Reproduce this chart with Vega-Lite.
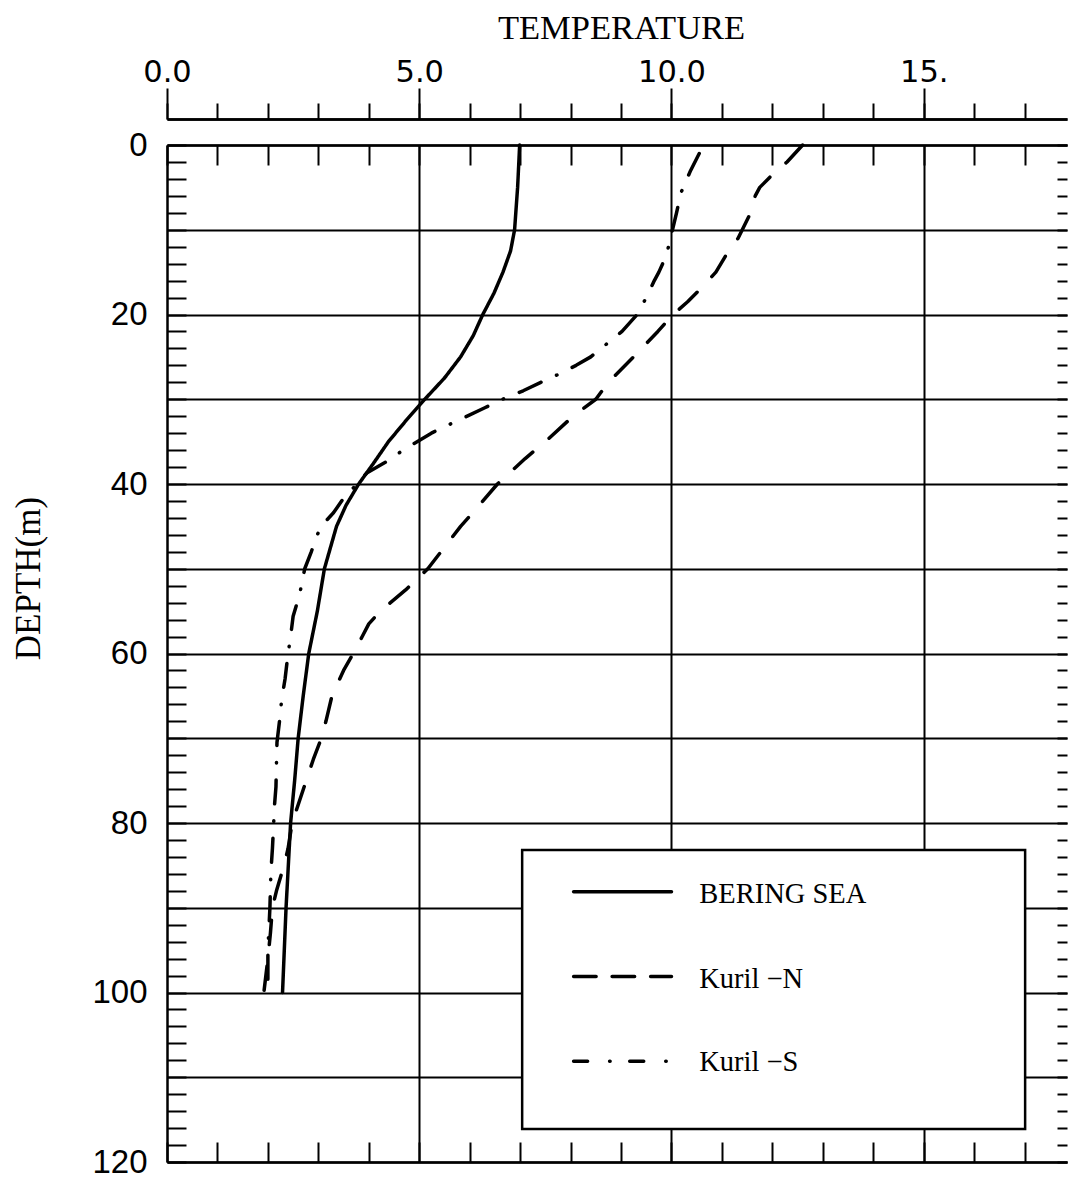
{
  "$schema": "https://vega.github.io/schema/vega-lite/v6.json",
  "autosize": "none",
  "padding": {"left": 167, "top": 145, "right": 1, "bottom": 19},
  "width": 900,
  "height": 1017,
  "background": "white",
  "config": {
    "view": {"stroke": null},
    "axis": {
      "domainColor": "black", "tickColor": "black", "gridColor": "black",
      "labelColor": "black", "titleColor": "black",
      "domainWidth": 2.5, "tickWidth": 2, "gridWidth": 2, "gridOpacity": 1,
      "labelFont": "Liberation Sans", "titleFont": "Liberation Serif", "titleFontWeight": "normal",
      "grid": false, "labelFlush": false, "labelOverlap": false
    }
  },
  "resolve": {"axis": {"x": "independent", "y": "independent"}},
  "layer": [
    {
      "data": {"values": [
        {"series": "BERING SEA", "depth": 0, "temp": 6.99},
        {"series": "BERING SEA", "depth": 5, "temp": 6.95},
        {"series": "BERING SEA", "depth": 10, "temp": 6.89},
        {"series": "BERING SEA", "depth": 12.5, "temp": 6.81},
        {"series": "BERING SEA", "depth": 15, "temp": 6.66},
        {"series": "BERING SEA", "depth": 17.5, "temp": 6.48},
        {"series": "BERING SEA", "depth": 20, "temp": 6.26},
        {"series": "BERING SEA", "depth": 22.5, "temp": 6.07},
        {"series": "BERING SEA", "depth": 25, "temp": 5.82},
        {"series": "BERING SEA", "depth": 27.5, "temp": 5.5},
        {"series": "BERING SEA", "depth": 30, "temp": 5.11},
        {"series": "BERING SEA", "depth": 32.5, "temp": 4.74},
        {"series": "BERING SEA", "depth": 35, "temp": 4.39},
        {"series": "BERING SEA", "depth": 37.5, "temp": 4.1},
        {"series": "BERING SEA", "depth": 40, "temp": 3.8},
        {"series": "BERING SEA", "depth": 42.5, "temp": 3.55},
        {"series": "BERING SEA", "depth": 45, "temp": 3.36},
        {"series": "BERING SEA", "depth": 47.5, "temp": 3.24},
        {"series": "BERING SEA", "depth": 50, "temp": 3.12},
        {"series": "BERING SEA", "depth": 55, "temp": 2.98},
        {"series": "BERING SEA", "depth": 60, "temp": 2.81},
        {"series": "BERING SEA", "depth": 65, "temp": 2.7},
        {"series": "BERING SEA", "depth": 70, "temp": 2.6},
        {"series": "BERING SEA", "depth": 75, "temp": 2.53},
        {"series": "BERING SEA", "depth": 80, "temp": 2.45},
        {"series": "BERING SEA", "depth": 90, "temp": 2.36},
        {"series": "BERING SEA", "depth": 100, "temp": 2.29},
        {"series": "Kuril −N", "depth": 0, "temp": 12.6},
        {"series": "Kuril −N", "depth": 2, "temp": 12.29},
        {"series": "Kuril −N", "depth": 3.5, "temp": 12.0},
        {"series": "Kuril −N", "depth": 5, "temp": 11.75},
        {"series": "Kuril −N", "depth": 6, "temp": 11.66},
        {"series": "Kuril −N", "depth": 8, "temp": 11.57},
        {"series": "Kuril −N", "depth": 11, "temp": 11.32},
        {"series": "Kuril −N", "depth": 13, "temp": 11.08},
        {"series": "Kuril −N", "depth": 15, "temp": 10.88},
        {"series": "Kuril −N", "depth": 17, "temp": 10.57},
        {"series": "Kuril −N", "depth": 18.5, "temp": 10.32},
        {"series": "Kuril −N", "depth": 20, "temp": 10.03},
        {"series": "Kuril −N", "depth": 22, "temp": 9.73},
        {"series": "Kuril −N", "depth": 25, "temp": 9.25},
        {"series": "Kuril −N", "depth": 28, "temp": 8.75},
        {"series": "Kuril −N", "depth": 30, "temp": 8.5},
        {"series": "Kuril −N", "depth": 32, "temp": 8.05},
        {"series": "Kuril −N", "depth": 35, "temp": 7.5},
        {"series": "Kuril −N", "depth": 37, "temp": 7.1},
        {"series": "Kuril −N", "depth": 40, "temp": 6.55},
        {"series": "Kuril −N", "depth": 43, "temp": 6.12},
        {"series": "Kuril −N", "depth": 45, "temp": 5.82},
        {"series": "Kuril −N", "depth": 48, "temp": 5.43},
        {"series": "Kuril −N", "depth": 50, "temp": 5.17},
        {"series": "Kuril −N", "depth": 52.5, "temp": 4.73},
        {"series": "Kuril −N", "depth": 55, "temp": 4.23},
        {"series": "Kuril −N", "depth": 56.5, "temp": 4.0},
        {"series": "Kuril −N", "depth": 58, "temp": 3.87},
        {"series": "Kuril −N", "depth": 60, "temp": 3.69},
        {"series": "Kuril −N", "depth": 62, "temp": 3.5},
        {"series": "Kuril −N", "depth": 65, "temp": 3.27},
        {"series": "Kuril −N", "depth": 68, "temp": 3.15},
        {"series": "Kuril −N", "depth": 70, "temp": 3.06},
        {"series": "Kuril −N", "depth": 72.5, "temp": 2.9},
        {"series": "Kuril −N", "depth": 75, "temp": 2.76},
        {"series": "Kuril −N", "depth": 80, "temp": 2.48},
        {"series": "Kuril −N", "depth": 83, "temp": 2.4},
        {"series": "Kuril −N", "depth": 85, "temp": 2.32},
        {"series": "Kuril −N", "depth": 88, "temp": 2.17},
        {"series": "Kuril −N", "depth": 90, "temp": 2.09},
        {"series": "Kuril −N", "depth": 93, "temp": 2.05},
        {"series": "Kuril −N", "depth": 96, "temp": 2.0},
        {"series": "Kuril −N", "depth": 100, "temp": 1.92},
        {"series": "Kuril −S", "depth": 1, "temp": 10.55},
        {"series": "Kuril −S", "depth": 3, "temp": 10.38},
        {"series": "Kuril −S", "depth": 5.6, "temp": 10.19},
        {"series": "Kuril −S", "depth": 8, "temp": 10.1},
        {"series": "Kuril −S", "depth": 10, "temp": 10.02},
        {"series": "Kuril −S", "depth": 13, "temp": 9.9},
        {"series": "Kuril −S", "depth": 15, "temp": 9.75},
        {"series": "Kuril −S", "depth": 16, "temp": 9.66},
        {"series": "Kuril −S", "depth": 18, "temp": 9.5},
        {"series": "Kuril −S", "depth": 20, "temp": 9.32},
        {"series": "Kuril −S", "depth": 22, "temp": 9.02},
        {"series": "Kuril −S", "depth": 25, "temp": 8.4},
        {"series": "Kuril −S", "depth": 26, "temp": 8.11},
        {"series": "Kuril −S", "depth": 27, "temp": 7.78},
        {"series": "Kuril −S", "depth": 28, "temp": 7.41},
        {"series": "Kuril −S", "depth": 29, "temp": 7.06},
        {"series": "Kuril −S", "depth": 30, "temp": 6.65},
        {"series": "Kuril −S", "depth": 31, "temp": 6.3},
        {"series": "Kuril −S", "depth": 32, "temp": 5.95},
        {"series": "Kuril −S", "depth": 33, "temp": 5.59},
        {"series": "Kuril −S", "depth": 34, "temp": 5.24},
        {"series": "Kuril −S", "depth": 36, "temp": 4.68},
        {"series": "Kuril −S", "depth": 37.3, "temp": 4.37},
        {"series": "Kuril −S", "depth": 38.7, "temp": 3.96},
        {"series": "Kuril −S", "depth": 40, "temp": 3.77},
        {"series": "Kuril −S", "depth": 41.5, "temp": 3.52},
        {"series": "Kuril −S", "depth": 43.4, "temp": 3.3},
        {"series": "Kuril −S", "depth": 45, "temp": 3.05},
        {"series": "Kuril −S", "depth": 46, "temp": 2.98},
        {"series": "Kuril −S", "depth": 48, "temp": 2.86},
        {"series": "Kuril −S", "depth": 50, "temp": 2.73},
        {"series": "Kuril −S", "depth": 53, "temp": 2.63},
        {"series": "Kuril −S", "depth": 55.6, "temp": 2.5},
        {"series": "Kuril −S", "depth": 58, "temp": 2.45},
        {"series": "Kuril −S", "depth": 60, "temp": 2.4},
        {"series": "Kuril −S", "depth": 63, "temp": 2.34},
        {"series": "Kuril −S", "depth": 65.6, "temp": 2.27},
        {"series": "Kuril −S", "depth": 68, "temp": 2.23},
        {"series": "Kuril −S", "depth": 70.5, "temp": 2.18},
        {"series": "Kuril −S", "depth": 73, "temp": 2.17},
        {"series": "Kuril −S", "depth": 75.7, "temp": 2.16},
        {"series": "Kuril −S", "depth": 78, "temp": 2.13},
        {"series": "Kuril −S", "depth": 80.6, "temp": 2.11},
        {"series": "Kuril −S", "depth": 83, "temp": 2.09},
        {"series": "Kuril −S", "depth": 85.7, "temp": 2.06},
        {"series": "Kuril −S", "depth": 90, "temp": 2.04},
        {"series": "Kuril −S", "depth": 95, "temp": 2.0},
        {"series": "Kuril −S", "depth": 100, "temp": 2.0}
      ]},
      "mark": {"type": "line", "strokeWidth": 3.5, "strokeCap": "round", "strokeJoin": "round", "color": "black"},
      "encoding": {
        "x": {"field": "temp", "type": "quantitative",
              "scale": {"domain": [0, 17.84], "nice": false, "zero": false},
              "axis": {"orient": "top", "offset": 26, "values": [0, 5, 10, 15], "tickSize": 31,
                       "labelExpr": "datum.value == 15 ? '15.' : format(datum.value, '.1f')",
                       "labelFont": "DejaVu Sans", "labelFontSize": 30.5, "labelPadding": 7, "labelBaseline": "alphabetic", "labelAngle": 0,
                       "domain": true, "grid": false,
                       "title": "TEMPERATURE", "titleFontSize": 34.5, "titleX": 454, "titleY": -81,
                       "titleAlign": "center", "titleBaseline": "alphabetic", "titleAngle": 0}},
        "y": {"field": "depth", "type": "quantitative",
              "scale": {"domain": [0, 120], "reverse": true, "nice": false, "zero": false},
              "axis": {"orient": "left", "values": [0, 20, 40, 60, 80, 100, 120], "ticks": false, "tickSize": 0,
                       "labelFontSize": 33, "labelPadding": 20, "domain": true, "grid": false,
                       "title": "DEPTH(m)", "titleFontSize": 35, "titleAngle": -90, "titleX": -128, "titleY": 433,
                       "titleAlign": "center", "titleBaseline": "alphabetic"}},
        "strokeDash": {"field": "series", "type": "nominal",
                       "scale": {"domain": ["BERING SEA", "Kuril −N", "Kuril −S"], "range": [[1, 0], [24.5, 21.5], [24, 17, 0.5, 17]]},
                       "legend": null},
        "order": {"field": "depth", "type": "quantitative"}
      }
    },
    {
      "data": {"values": [{"box": "legend"}]},
      "mark": {"type": "rect", "fill": "white", "stroke": "black", "strokeWidth": 2.5},
      "encoding": {
        "x": {"datum": 7.04, "type": "quantitative", "scale": {"domain": [0, 17.84], "nice": false, "zero": false},
              "axis": {"orient": "top", "offset": 26, "values": [0,1,2,3,4,5,6,7,8,9,10,11,12,13,14,15,16,17], "tickSize": 16,
                       "labels": false, "domain": true, "grid": false, "title": null}},
        "x2": {"datum": 17.01},
        "y": {"datum": 83.2, "type": "quantitative", "scale": {"domain": [0, 120], "reverse": true, "nice": false, "zero": false},
              "axis": {"orient": "left", "values": [0,2,4,6,8,10,12,14,16,18,20,22,24,26,28,30,32,34,36,38,40,42,44,46,48,50,52,54,56,58,60,62,64,66,68,70,72,74,76,78,80,82,84,86,88,90,92,94,96,98,100,102,104,106,108,110,112,114,116,118,120],
                       "tickSize": -19, "labels": false, "domain": false, "grid": false, "title": null}},
        "y2": {"datum": 116.1}
      }
    },
    {
      "data": {"values": [{"series": "BERING SEA"}]},
      "mark": {"type": "rule", "strokeWidth": 3.5, "strokeCap": "round", "color": "black"},
      "encoding": {
        "x": {"datum": 8.06, "type": "quantitative", "scale": {"domain": [0, 17.84], "nice": false, "zero": false},
              "axis": {"orient": "top", "offset": 0, "values": [0,1,2,3,4,5,6,7,8,9,10,11,12,13,14,15,16,17], "tickSize": -20,
                       "labels": false, "domain": true, "grid": false, "title": null}},
        "x2": {"datum": 10.0},
        "y": {"datum": 88.1, "type": "quantitative", "scale": {"domain": [0, 120], "reverse": true, "nice": false, "zero": false},
              "axis": {"orient": "right", "values": [0,2,4,6,8,10,12,14,16,18,20,22,24,26,28,30,32,34,36,38,40,42,44,46,48,50,52,54,56,58,60,62,64,66,68,70,72,74,76,78,80,82,84,86,88,90,92,94,96,98,100,102,104,106,108,110,112,114,116,118,120],
                       "tickSize": -10, "labels": false, "domain": false, "grid": false, "title": null}}
      }
    },
    {
      "data": {"values": [{"series": "Kuril −N"}]},
      "mark": {"type": "rule", "strokeWidth": 3.5, "strokeCap": "round", "color": "black", "strokeDash": [22.5, 16]},
      "encoding": {
        "x": {"datum": 8.06, "type": "quantitative", "scale": {"domain": [0, 17.84], "nice": false, "zero": false},
              "axis": {"orient": "bottom", "values": [0,1,2,3,4,5,6,7,8,9,10,11,12,13,14,15,16,17], "tickSize": -20,
                       "labels": false, "domain": true, "grid": false, "title": null}},
        "x2": {"datum": 10.0},
        "y": {"datum": 98.1, "type": "quantitative", "scale": {"domain": [0, 120], "reverse": true, "nice": false, "zero": false},
              "axis": {"orient": "left", "values": [0, 10, 20, 30, 40, 50, 60, 70, 80, 90, 100, 110, 120], "ticks": false, "tickSize": 0,
                       "labels": false, "domain": false, "grid": true, "title": null}}
      }
    },
    {
      "data": {"values": [{"series": "Kuril −S"}]},
      "mark": {"type": "rule", "strokeWidth": 3.5, "strokeCap": "round", "color": "black", "strokeDash": [14, 22, 0.5, 19.6]},
      "encoding": {
        "x": {"datum": 8.06, "type": "quantitative", "scale": {"domain": [0, 17.84], "nice": false, "zero": false},
              "axis": {"orient": "bottom", "values": [5, 10, 15], "ticks": false, "tickSize": 0,
                       "labels": false, "domain": false, "grid": true, "title": null}},
        "x2": {"datum": 10.0},
        "y": {"datum": 108.1, "type": "quantitative", "scale": {"domain": [0, 120], "reverse": true, "nice": false, "zero": false}, "axis": null}
      }
    },
    {
      "data": {"values": [{"series": "BERING SEA"}]},
      "mark": {"type": "text", "font": "Liberation Serif", "fontSize": 28.5, "align": "left", "baseline": "alphabetic", "color": "black"},
      "encoding": {
        "x": {"datum": 10.55, "type": "quantitative", "scale": {"domain": [0, 17.84], "nice": false, "zero": false}, "axis": null},
        "y": {"datum": 89.45, "type": "quantitative", "scale": {"domain": [0, 120], "reverse": true, "nice": false, "zero": false}, "axis": null},
        "text": {"field": "series", "type": "nominal"}
      }
    },
    {
      "data": {"values": [{"series": "Kuril −N"}]},
      "mark": {"type": "text", "font": "Liberation Serif", "fontSize": 28.5, "align": "left", "baseline": "alphabetic", "color": "black"},
      "encoding": {
        "x": {"datum": 10.55, "type": "quantitative", "scale": {"domain": [0, 17.84], "nice": false, "zero": false}, "axis": null},
        "y": {"datum": 99.5, "type": "quantitative", "scale": {"domain": [0, 120], "reverse": true, "nice": false, "zero": false}, "axis": null},
        "text": {"field": "series", "type": "nominal"}
      }
    },
    {
      "data": {"values": [{"series": "Kuril −S"}]},
      "mark": {"type": "text", "font": "Liberation Serif", "fontSize": 28.5, "align": "left", "baseline": "alphabetic", "color": "black"},
      "encoding": {
        "x": {"datum": 10.55, "type": "quantitative", "scale": {"domain": [0, 17.84], "nice": false, "zero": false}, "axis": null},
        "y": {"datum": 109.3, "type": "quantitative", "scale": {"domain": [0, 120], "reverse": true, "nice": false, "zero": false}, "axis": null},
        "text": {"field": "series", "type": "nominal"}
      }
    }
  ]
}
